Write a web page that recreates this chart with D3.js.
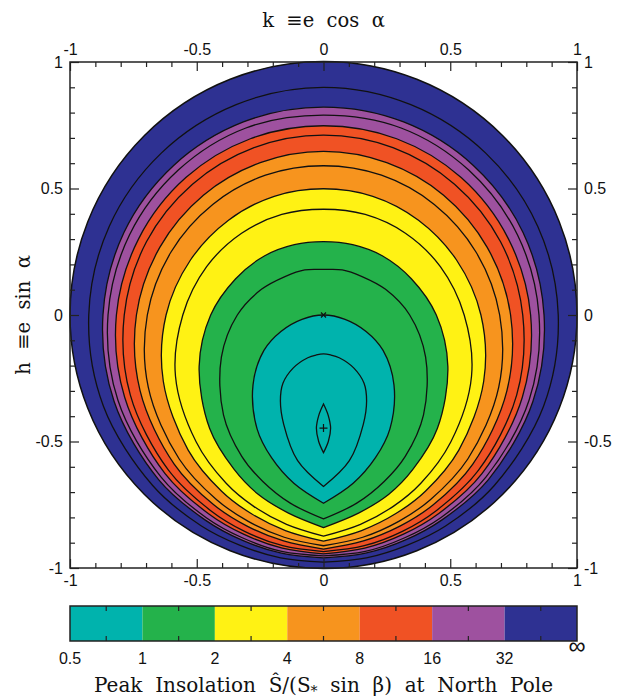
<!DOCTYPE html>
<html>
<head>
<meta charset="utf-8">
<script src="https://cdn.jsdelivr.net/npm/d3@7"></script>
<style>
  body { margin: 0; background: #fff; }
  text { white-space: pre; }
</style>
</head>
<body>
<svg id="chart" width="632" height="698"></svg>
<script>
// colour bands (value ranges) and their boundary labels
const bandColors = ['#00b3ad', '#24b24b', '#fff214', '#f7941e', '#f05224', '#9e519f', '#2e3192'];
const bandLabels = ['0.5', '1', '2', '4', '8', '16', '32', '\u221e'];

// contours read as eccentricity e along directions alpha (deg), right half
const polarAngles = [90, 67.5, 45, 22.5, 0, -22.5, -45, -60, -70, -80, -90];
const outerLevels = [1.5, 2, 3, 4, 6, 8, 12, 16, 24, 32, 96];
const outerE = [
  [0.180, 0.193, 0.215, 0.265, 0.340, 0.436, 0.558, 0.645, 0.700, 0.755, 0.806],
  [0.290, 0.301, 0.330, 0.375, 0.445, 0.531, 0.635, 0.705, 0.754, 0.795, 0.840],
  [0.418, 0.430, 0.457, 0.499, 0.555, 0.632, 0.710, 0.768, 0.805, 0.840, 0.874],
  [0.499, 0.508, 0.530, 0.568, 0.621, 0.684, 0.755, 0.804, 0.835, 0.865, 0.894],
  [0.590, 0.598, 0.618, 0.651, 0.695, 0.748, 0.805, 0.843, 0.868, 0.892, 0.912],
  [0.647, 0.652, 0.670, 0.699, 0.738, 0.783, 0.833, 0.866, 0.887, 0.907, 0.925],
  [0.711, 0.716, 0.731, 0.756, 0.786, 0.825, 0.866, 0.892, 0.910, 0.926, 0.935],
  [0.748, 0.754, 0.768, 0.789, 0.817, 0.849, 0.885, 0.907, 0.922, 0.936, 0.944],
  [0.790, 0.800, 0.810, 0.828, 0.850, 0.878, 0.906, 0.925, 0.937, 0.949, 0.952],
  [0.822, 0.826, 0.836, 0.852, 0.870, 0.894, 0.920, 0.935, 0.946, 0.956, 0.960],
  [0.900, 0.900, 0.905, 0.915, 0.926, 0.940, 0.953, 0.963, 0.968, 0.975, 0.977]
];

// inner contours as [k, h] points, right half, top to bottom
const contour055 = [[0, -0.352], [0.018, -0.395], [0.028, -0.448], [0.019, -0.500], [0, -0.544]];
const contour075 = [[0, -0.154], [0.028, -0.158], [0.062, -0.169], [0.120, -0.210], [0.160, -0.270],
  [0.170, -0.340], [0.157, -0.432], [0.102, -0.576], [0, -0.678]];
const contour1 = [[0, 0], [0.085, -0.017], [0.168, -0.065], [0.235, -0.140], [0.278, -0.276],
  [0.262, -0.450], [0.205, -0.564], [0.117, -0.665], [0, -0.744]];

const minPoint = [0, -0.447];
const axisTicks = [-1, -0.5, 0, 0.5, 1];

const svg = d3.select('#chart');
const x = d3.scaleLinear().domain([-1, 1]).range([70, 577]);
const y = d3.scaleLinear().domain([-1, 1]).range([568, 62]);

const toKH = row => row.map((e, i) => {
  const a = polarAngles[i] * Math.PI / 180;
  return [e * Math.cos(a), e * Math.sin(a)];
});

const lineGen = d3.line().curve(d3.curveCatmullRom.alpha(0.5));

// right half mirrored; bottom point kept as a cusp, top smooth unless pointedTop
function ringPath(pts, pointedTop) {
  const right = pts.map(p => [x(p[0]), y(p[1])]);
  const left = pts.map(p => [x(-p[0]), y(p[1])]);
  if (pointedTop) {
    return lineGen(right) + lineGen(left.slice().reverse()).replace(/^M[^A-Za-z]*/, '') + 'Z';
  }
  const ring = right.slice().reverse().concat(left.slice(1));
  return lineGen(ring) + 'Z';
}

const allContours = [
  { pts: contour055, pointed: true, level: 0.55 },
  { pts: contour075, pointed: false, level: 0.75 },
  { pts: contour1, pointed: false, level: 1 }
].concat(outerLevels.map((lv, i) => ({ pts: toKH(outerE[i]), pointed: false, level: lv })));

// band boundaries: level -> colour inside it
const fillFor = { 1: bandColors[0], 2: bandColors[1], 4: bandColors[2], 8: bandColors[3], 16: bandColors[4], 32: bandColors[5] };

const plot = svg.append('g');
const R = x(1) - x(0);

plot.append('circle')
  .attr('cx', x(0)).attr('cy', y(0)).attr('r', R)
  .attr('fill', bandColors[6]);

allContours.slice().reverse().forEach(c => {
  if (fillFor[c.level]) {
    plot.append('path')
      .attr('d', ringPath(c.pts, c.pointed))
      .attr('fill', fillFor[c.level]);
  }
});

allContours.forEach(c => {
  plot.append('path')
    .attr('d', ringPath(c.pts, c.pointed))
    .attr('fill', 'none')
    .attr('stroke', '#111')
    .attr('stroke-width', 1.3);
});

plot.append('circle')
  .attr('cx', x(0)).attr('cy', y(0)).attr('r', R)
  .attr('fill', 'none')
  .attr('stroke', '#111')
  .attr('stroke-width', 1.5);

// markers: circular orbit and minimum
const mx = x(0), my = y(0);
plot.append('path')
  .attr('d', `M${mx - 2.5},${my - 2.5}L${mx + 2.5},${my + 2.5}M${mx - 2.5},${my + 2.5}L${mx + 2.5},${my - 2.5}`)
  .attr('stroke', '#111').attr('stroke-width', 1.2);
const px = x(minPoint[0]), py = y(minPoint[1]);
plot.append('path')
  .attr('d', `M${px - 4},${py}L${px + 4},${py}M${px},${py - 4}L${px},${py + 4}`)
  .attr('stroke', '#111').attr('stroke-width', 1.2);

// axes, ticks inward on all four sides
const minor = d3.range(-10, 11).map(d => d / 10).filter(d => Math.abs(d * 2 - Math.round(d * 2)) > 1e-6);
const fmt = d => d === 0 ? '0' : String(d);

function addAxis(axisFn, scale, transform) {
  const g = svg.append('g').attr('transform', transform);
  g.call(axisFn(scale).tickValues(axisTicks).tickSize(-9).tickPadding(7).tickFormat(fmt));
  g.select('.domain').remove();
  const g2 = svg.append('g').attr('transform', transform);
  g2.call(axisFn(scale).tickValues(minor).tickSize(-5).tickFormat(''));
  g2.select('.domain').remove();
  [g, g2].forEach(s => {
    s.selectAll('line').attr('stroke', '#222').attr('stroke-width', 1.2);
    s.selectAll('text').attr('font-family', 'Liberation Sans, Arial, sans-serif')
      .attr('font-size', 16).attr('fill', '#111');
  });
}
addAxis(d3.axisBottom, x, `translate(0,${y(-1)})`);
addAxis(d3.axisTop, x, `translate(0,${y(1)})`);
addAxis(d3.axisLeft, y, `translate(${x(-1)},0)`);
addAxis(d3.axisRight, y, `translate(${x(1)},0)`);

svg.append('rect')
  .attr('x', x(-1)).attr('y', y(1))
  .attr('width', x(1) - x(-1)).attr('height', y(-1) - y(1))
  .attr('fill', 'none').attr('stroke', '#222').attr('stroke-width', 1.5);

const serif = 'DejaVu Serif, serif';
svg.append('text')
  .attr('x', x(0)).attr('y', 27)
  .attr('text-anchor', 'middle')
  .attr('font-family', serif).attr('font-size', 19.5).attr('fill', '#111')
  .text('k  \u2261e  cos  \u03b1');

svg.append('text')
  .attr('transform', `translate(30,${y(0)}) rotate(-90)`)
  .attr('text-anchor', 'middle')
  .attr('font-family', serif).attr('font-size', 19.5).attr('fill', '#111')
  .text('h  \u2261e  sin  \u03b1');

// colour bar
const cb = d3.scaleLinear().domain([0, bandColors.length]).range([70, 577]);
const cbTop = 606, cbBot = 641;
const cbar = svg.append('g');
cbar.selectAll('rect.band').data(bandColors).join('rect')
  .attr('class', 'band')
  .attr('x', (d, i) => cb(i)).attr('y', cbTop)
  .attr('width', cb(1) - cb(0)).attr('height', cbBot - cbTop)
  .attr('fill', d => d);
const cbMid = d3.range(bandColors.length).map(i => i + 0.5);
cbar.selectAll('line.mt').data(cbMid).join('line')
  .attr('class', 'mt')
  .attr('x1', d => cb(d)).attr('x2', d => cb(d))
  .attr('y1', cbTop).attr('y2', cbTop + 5)
  .attr('stroke', '#222').attr('stroke-width', 1.2);
cbar.selectAll('line.mb').data(cbMid).join('line')
  .attr('class', 'mb')
  .attr('x1', d => cb(d)).attr('x2', d => cb(d))
  .attr('y1', cbBot - 5).attr('y2', cbBot)
  .attr('stroke', '#222').attr('stroke-width', 1.2);
cbar.append('rect')
  .attr('x', cb(0)).attr('y', cbTop)
  .attr('width', cb(bandColors.length) - cb(0)).attr('height', cbBot - cbTop)
  .attr('fill', 'none').attr('stroke', '#222').attr('stroke-width', 1.5);
cbar.selectAll('text.lab').data(bandLabels).join('text')
  .attr('class', 'lab')
  .attr('x', (d, i) => cb(i))
  .attr('y', (d, i) => i === 7 ? 654 : 664)
  .attr('text-anchor', 'middle')
  .attr('font-family', 'Liberation Sans, Arial, sans-serif')
  .attr('font-size', (d, i) => i === 7 ? 24 : 16)
  .attr('fill', '#111')
  .text(d => d);

const title = svg.append('text')
  .attr('x', x(0)).attr('y', 692)
  .attr('text-anchor', 'middle')
  .attr('font-family', serif).attr('font-size', 20).attr('fill', '#111');
title.append('tspan').text('Peak  Insolation  \u015c/(S');
title.append('tspan').attr('dy', 4).attr('font-size', 14).text('*');
title.append('tspan').attr('dy', -4).text('  sin  \u03b2)  at  North  Pole');
</script>
</body>
</html>
